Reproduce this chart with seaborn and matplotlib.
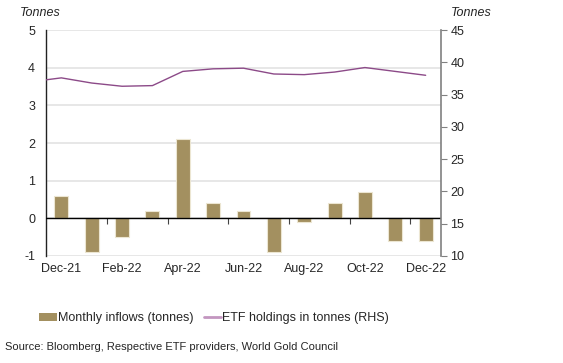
import matplotlib
matplotlib.use("Agg")
import matplotlib.pyplot as plt
from matplotlib.patches import Patch
from matplotlib.lines import Line2D
import numpy as np
import pandas as pd
import seaborn as sns

months = ["Dec-21", "Jan-22", "Feb-22", "Mar-22", "Apr-22", "May-22", "Jun-22",
          "Jul-22", "Aug-22", "Sep-22", "Oct-22", "Nov-22", "Dec-22"]
inflows = [0.6, -0.9, -0.5, 0.2, 2.1, 0.4, 0.2, -0.9, -0.1, 0.4, 0.7, -0.6, -0.6]
# holdings: first value is the point at the left edge of the axis
holdings_pos = [-0.5, 0, 1, 2, 3, 4, 5, 6, 7, 8, 9, 10, 11, 12]
holdings = [37.3, 37.6, 36.8, 36.3, 36.4, 38.6, 39.0, 39.1, 38.2, 38.1, 38.5, 39.2, 38.6, 38.0]
tick_labels = ["Dec-21", "Feb-22", "Apr-22", "Jun-22", "Aug-22", "Oct-22", "Dec-22"]

bar_col = "#a39060"
line_col = "#8c4a88"

sns.set_style("white")
plt.rcParams["font.family"] = ["Liberation Sans", "DejaVu Sans"]
plt.rcParams["font.size"] = 9
plt.rcParams["axes.unicode_minus"] = False

fig = plt.figure(figsize=(5.63, 3.63), dpi=100)
ax = fig.add_axes([0.082, 0.295, 0.701, 0.622])

df = pd.DataFrame({"month": months, "inflow": inflows})
sns.barplot(data=df, x="month", y="inflow", color=bar_col, saturation=1,
            width=0.46, edgecolor="#ece6d2", linewidth=0.8, ax=ax, zorder=3)

ax.set_ylim(-1, 5)
ax.set_yticks(range(-1, 6))
ax.set_xlim(-0.5, 12.5)
ax.set_xticks(range(0, 13, 2))
ax.set_xticklabels(tick_labels)
ax.set_xlabel("")
ax.set_ylabel("")
ax.grid(axis="y", color="#e3e3e3", linewidth=1.2, zorder=0)
for s in ["top", "right", "bottom"]:
    ax.spines[s].set_visible(False)
ax.spines["left"].set_color("#222222")
ax.spines["left"].set_linewidth(1)
ax.tick_params(axis="x", length=0, pad=5)
ax.tick_params(axis="y", length=0, pad=8)

# zero line with small tick marks between bar pairs
ax.axhline(0, color="black", linewidth=1, zorder=5)
zax = ax.secondary_xaxis(1 / 6)
zax.set_xticks(np.arange(1.5, 12, 2))
zax.set_xticklabels([])
zax.tick_params(axis="x", length=4, direction="out", color="#444444", width=0.8)
zax.spines["bottom"].set_visible(False)

ax2 = ax.twinx()
sns.lineplot(x=holdings_pos, y=holdings, color=line_col, linewidth=1, ax=ax2, zorder=4)
ax2.set_ylim(10, 45)
ax2.set_yticks(range(10, 46, 5))
for s in ["top", "left", "bottom"]:
    ax2.spines[s].set_visible(False)
ax2.spines["right"].set_color("#808080")
ax2.spines["right"].set_linewidth(1.2)
ax2.tick_params(axis="y", length=4, direction="out", color="#808080", pad=3, right=True)
ax2.set_xlim(-0.5, 12.5)

fig.text(0.036, 0.955, "Tonnes", style="italic", fontsize=9)
fig.text(0.80, 0.955, "Tonnes", style="italic", fontsize=9)

handles = [Patch(facecolor=bar_col, edgecolor="none"),
           Line2D([], [], color="#c396c0", linewidth=2)]
fig.legend(handles, ["Monthly inflows (tonnes)", "ETF holdings in tonnes (RHS)"],
           loc="center left", bbox_to_anchor=(0.05, 0.123), ncol=2, frameon=False,
           handlelength=1.4, handletextpad=0.1, columnspacing=0.8, fontsize=9)

fig.text(0.008, 0.035, "Source: Bloomberg, Respective ETF providers, World Gold Council",
         fontsize=8)

fig.savefig("out.png", dpi=100)
